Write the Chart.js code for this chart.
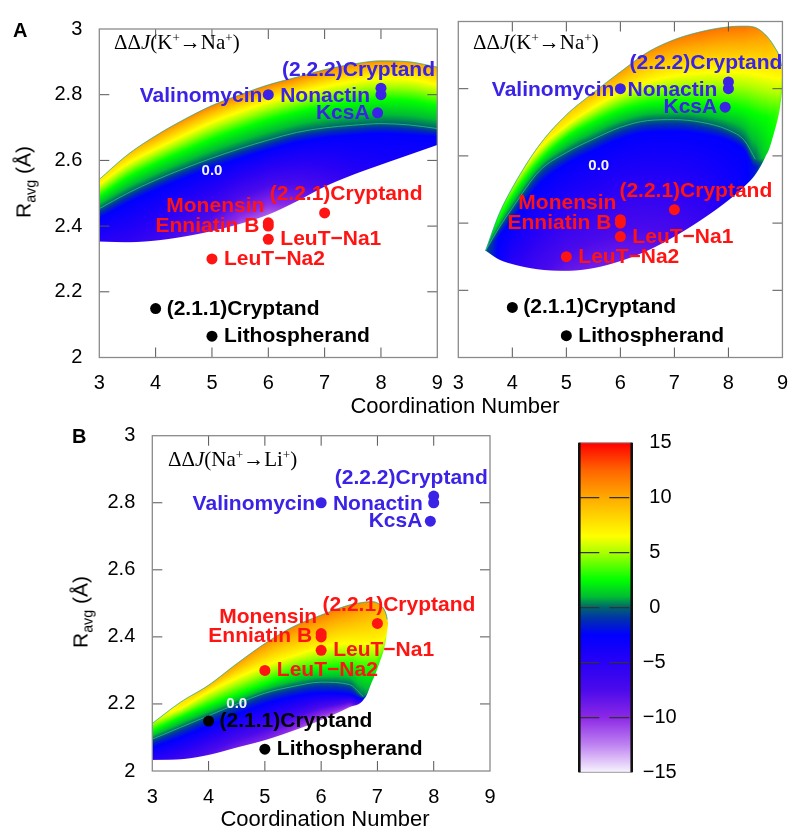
<!DOCTYPE html>
<html><head><meta charset="utf-8">
<script src="https://cdn.jsdelivr.net/npm/chart.js@4.4.0/dist/chart.umd.min.js"></script>
<style>
html,body{margin:0;padding:0;background:#fff;}
#wrap{position:relative;width:802px;height:830px;overflow:hidden;font-family:"Liberation Sans",Arial,sans-serif;}
canvas{position:absolute;left:0;top:0;}
.t{position:absolute;white-space:nowrap;color:#000;}
.ser{font-family:"Liberation Serif","Times New Roman",serif;font-size:21px;line-height:21px;}
.ser sup{font-size:0.62em;position:relative;top:-0.55em;vertical-align:baseline;line-height:0;}
.ytitle{font-size:21px;line-height:21px;transform:translate(-50%,-50%) rotate(-90deg);}
.ytitle sub{font-size:0.68em;position:relative;top:0.35em;vertical-align:baseline;line-height:0;}
.xtitle{font-size:22px;line-height:22px;transform:translateX(-50%);}
.panel{font-weight:bold;font-size:20px;line-height:20px;}
</style></head><body>
<div id="wrap">
<canvas id="cA1" width="802" height="830"></canvas>
<canvas id="cA2" width="802" height="830"></canvas>
<canvas id="cB" width="802" height="830"></canvas>
<canvas id="cBar" width="802" height="830"></canvas>
<div class="t panel" style="left:13px;top:20px;">A</div>
<div class="t panel" style="left:72px;top:426px;">B</div>
<div class="t ser" style="left:114px;top:32px;">ΔΔ<i>J</i>(K<sup>+</sup>→Na<sup>+</sup>)</div>
<div class="t ser" style="left:473px;top:32px;">ΔΔ<i>J</i>(K<sup>+</sup>→Na<sup>+</sup>)</div>
<div class="t ser" style="left:168px;top:449px;">ΔΔ<i>J</i>(Na<sup>+</sup>→Li<sup>+</sup>)</div>
<div class="t xtitle" style="left:455px;top:395px;">Coordination Number</div>
<div class="t xtitle" style="left:325px;top:808px;">Coordination Number</div>
<div class="t ytitle" style="left:23px;top:182px;">R<sub>avg</sub> (Å)</div>
<div class="t ytitle" style="left:80px;top:612px;">R<sub>avg</sub> (Å)</div>
</div>
<script>
// ---------------- data ----------------
const compounds = ['Valinomycin','Nonactin','(2.2.2)Cryptand','KcsA','Monensin','Enniatin B','LeuT\u2212Na1','LeuT\u2212Na2','(2.2.1)Cryptand','(2.1.1)Cryptand','Lithospherand'];
const coordNumber = [6, 8, 8, 7.94, 6, 6, 6, 5, 7, 4, 5];
const rAvg = [2.80, 2.80, 2.82, 2.745, 2.41, 2.40, 2.36, 2.30, 2.44, 2.149, 2.065];
const ionClass = ['K','K','K','K','Na','Na','Na','Na','Na','Li','Li'];
const xTicks = [3, 4, 5, 6, 7, 8, 9];
const yTicks = [2, 2.2, 2.4, 2.6, 2.8, 3];
const cbarTicks = [-15, -10, -5, 0, 5, 10, 15];

// colour scale (value -> rgb)
const cmapValues = [-15, -12.5, -10, -7.5, -5, -2.5, -1, 0, 1, 2.5, 5, 6.5, 10, 12.5, 15];
const cmapColors = [[248,244,255],[190,130,240],[140,40,230],[75,10,235],[40,0,245],[0,0,255],[0,50,170],[0,100,110],[0,190,50],[0,255,0],[170,255,0],[255,255,0],[255,170,0],[255,100,0],[255,0,0]];

// Panel A (left): curves of the ΔΔJ(K+→Na+) map, top edge -> bottom edge (y in Å, value from colour)
const mapA1X      = [3, 3.5, 4, 4.5, 5, 5.5, 6, 6.5, 7, 7.5, 8, 8.5, 9];
const mapA1UpperY = [2.542, 2.617, 2.675, 2.724, 2.767, 2.80, 2.83, 2.853, 2.876, 2.893, 2.903, 2.90, 2.884];
const mapA1UpperV = [7, 9, 10.5, 11, 11.5, 11.5, 11.5, 11.5, 11.5, 11, 11, 10.5, 10];
const mapA1YelY   = [2.532, 2.595, 2.64, 2.682, 2.722, 2.755, 2.785, 2.808, 2.83, 2.847, 2.857, 2.855, 2.838];
const mapA1YelV   = [7, 7, 7, 7, 7, 7, 7, 7, 7, 7, 7, 7, 7];
const mapA1GrnY   = [2.49, 2.547, 2.59, 2.628, 2.664, 2.695, 2.723, 2.746, 2.764, 2.777, 2.784, 2.781, 2.767];
const mapA1GrnV   = [2.5, 2.5, 2.5, 2.5, 2.5, 2.5, 2.5, 2.5, 2.5, 2.5, 2.5, 2.5, 2.5];
const mapA1ZeroY  = [2.453, 2.50, 2.54, 2.575, 2.607, 2.636, 2.662, 2.685, 2.699, 2.707, 2.712, 2.708, 2.697];
const mapA1ZeroV  = [0, 0, 0, 0, 0, 0, 0, 0, 0, 0, 0, 0, 0];
const mapA1BluY   = [2.423, 2.47, 2.51, 2.545, 2.577, 2.606, 2.632, 2.655, 2.669, 2.677, 2.682, 2.678, 2.672];
const mapA1BluV   = [-2.5, -2.5, -2.5, -2.5, -2.5, -2.5, -2.5, -2.5, -2.5, -2.5, -2.5, -2.5, -2.5];
const mapA1LowerY = [2.353, 2.351, 2.356, 2.368, 2.385, 2.407, 2.435, 2.475, 2.52, 2.556, 2.587, 2.617, 2.647];
const mapA1LowerV = [-5, -5.5, -6.5, -8, -9, -11, -11.5, -9.5, -7, -5, -4, -3.5, -3];

// Panel A (right)
const mapA2X      = [3.505, 3.75, 4, 4.5, 5, 5.5, 6, 6.5, 7, 7.5, 8, 8.3, 8.5, 8.7, 8.85, 8.95, 9];
const mapA2UpperY = [2.318, 2.425, 2.505, 2.632, 2.722, 2.788, 2.85, 2.908, 2.946, 2.97, 2.984, 2.986, 2.982, 2.958, 2.925, 2.892, 2.855];
const mapA2UpperV = [0, 3, 5, 7, 8.5, 9.5, 10.5, 11, 11.5, 12, 12, 12, 11.5, 10.5, 9, 8, 7.5];
const mapA2YelY   = [2.318, 2.425, 2.505, 2.625, 2.695, 2.75, 2.795, 2.828, 2.848, 2.858, 2.862, 2.862, 2.858, 2.852, 2.848, 2.845, 2.845];
const mapA2YelV   = [0, 3, 5, 7, 7, 7, 7, 7, 7, 7, 7, 7, 7, 7, 7, 7, 7];
const mapA2GrnY   = [2.318, 2.41, 2.48, 2.585, 2.655, 2.70, 2.735, 2.755, 2.76, 2.757, 2.748, 2.738, 2.725, 2.715, 2.725, 2.76, 2.815];
const mapA2GrnV   = [0, 2.5, 2.5, 2.5, 2.5, 2.5, 2.5, 2.5, 2.5, 2.5, 2.5, 2.5, 2.5, 2.5, 3, 4, 5];
const mapA2ZeroY  = [2.318, 2.385, 2.445, 2.555, 2.61, 2.65, 2.685, 2.705, 2.708, 2.70, 2.677, 2.645, 2.59, 2.603, 2.672, 2.74, 2.80];
const mapA2ZeroV  = [0, 0, 0, 0, 0, 0, 0, 0, 0, 0, 0, 0, 0, 1.5, 2.5, 3.5, 4.5];
const mapA2BluY   = [2.318, 2.36, 2.41, 2.515, 2.575, 2.615, 2.65, 2.67, 2.672, 2.665, 2.645, 2.615, 2.565, 2.603, 2.672, 2.74, 2.80];
const mapA2BluV   = [0, -2.5, -2.5, -2.5, -2.5, -2.5, -2.5, -2.5, -2.5, -2.5, -2.5, -2.5, -2, 1.5, 2.5, 3.5, 4.5];
const mapA2LowerY = [2.318, 2.292, 2.278, 2.262, 2.258, 2.266, 2.287, 2.318, 2.36, 2.41, 2.468, 2.51, 2.545, 2.603, 2.672, 2.74, 2.80];
const mapA2LowerV = [0, -3, -5, -7, -8.5, -9, -9, -8.5, -7.5, -6, -4, -3, -1.5, 1.5, 2.5, 3.5, 4.5];

// Panel B: ΔΔJ(Na+→Li+)
const mapBX      = [3, 3.5, 4, 4.5, 5, 5.5, 6, 6.5, 6.75, 6.9, 7.05, 7.15, 7.19];
const mapBUpperY = [2.142, 2.205, 2.256, 2.32, 2.38, 2.43, 2.465, 2.495, 2.503, 2.505, 2.495, 2.47, 2.44];
const mapBUpperV = [5, 7.5, 9.5, 10.5, 11, 11.5, 11.5, 11.5, 11, 10.5, 10, 9, 8];
const mapBYelY   = [2.142, 2.19, 2.24, 2.283, 2.32, 2.35, 2.375, 2.39, 2.39, 2.39, 2.395, 2.41, 2.44];
const mapBYelV   = [5, 7, 7, 7, 7, 7, 7, 7, 7, 7, 7, 7, 8];
const mapBGrnY   = [2.12, 2.16, 2.195, 2.228, 2.26, 2.29, 2.305, 2.31, 2.30, 2.30, 2.33, 2.39, 2.44];
const mapBGrnV   = [2.5, 2.5, 2.5, 2.5, 2.5, 2.5, 2.5, 2.5, 2.5, 2.5, 3, 4.5, 8];
const mapBZeroY  = [2.095, 2.13, 2.165, 2.20, 2.232, 2.252, 2.265, 2.258, 2.222, 2.265, 2.33, 2.39, 2.44];
const mapBZeroV  = [0, 0, 0, 0, 0, 0, 0, 0, 0, 1.5, 3, 4.5, 8];
const mapBBluY   = [2.07, 2.10, 2.135, 2.17, 2.20, 2.222, 2.232, 2.228, 2.215, 2.265, 2.33, 2.39, 2.44];
const mapBBluV   = [-2.5, -2.5, -2.5, -2.5, -2.5, -2.5, -2.5, -2.5, -2.5, 1.5, 3, 4.5, 8];
const mapBLowerY = [2.033, 2.035, 2.048, 2.07, 2.092, 2.12, 2.152, 2.19, 2.212, 2.265, 2.33, 2.39, 2.44];
const mapBLowerV = [-5, -6.5, -8, -9, -9.5, -10.5, -12, -11, -5, 1.5, 3, 4.5, 8];

// anchor of the "0.0" contour labels (data coords)
const zeroLabelA1 = [5.0, 2.569];
const zeroLabelA2 = [5.6, 2.57];
const zeroLabelB  = [4.5, 2.199];

// ---------------- styles ----------------
const ionColors = {K: '#3a22e6', Na: '#ff1414', Li: '#000000'};
// [dx, dy (baseline), align] label offsets in px from each point
const labelPlacement = [[-6,7,'right'],[-11,7,'right'],[54,-12.5,'right'],[-8,6,'right'],[-4,-10.5,'right'],[-9,5.5,'right'],[12,6,'left'],[12,6,'left'],[-55,-12.5,'left'],[11,6,'left'],[12,6,'left']];
const FONT = "'Liberation Sans', Arial, sans-serif";
Chart.defaults.font.family = FONT;

// ---------------- helpers ----------------
function monotone(xs, ys) {
  const n = xs.length, d = [], m = new Array(n);
  for (let i = 0; i < n - 1; i++) d.push((ys[i+1]-ys[i])/(xs[i+1]-xs[i]));
  m[0] = d[0]; m[n-1] = d[n-2];
  for (let i = 1; i < n - 1; i++) m[i] = (d[i-1]*d[i] <= 0) ? 0 : (d[i-1]+d[i])/2;
  for (let i = 0; i < n - 1; i++) {
    if (d[i] === 0) { m[i] = 0; m[i+1] = 0; continue; }
    const a = m[i]/d[i], b = m[i+1]/d[i], s = a*a + b*b;
    if (s > 9) { const t = 3/Math.sqrt(s); m[i] = t*a*d[i]; m[i+1] = t*b*d[i]; }
  }
  return function (x) {
    let i = 0; while (i < n - 2 && x > xs[i+1]) i++;
    const h = xs[i+1]-xs[i], t = (x-xs[i])/h, t2 = t*t, t3 = t2*t;
    return (2*t3-3*t2+1)*ys[i] + (t3-2*t2+t)*h*m[i] + (-2*t3+3*t2)*ys[i+1] + (t3-t2)*h*m[i+1];
  };
}
function lin(xs, vs, x) {
  let i = 0; while (i < xs.length - 2 && x > xs[i+1]) i++;
  const t = (x - xs[i])/(xs[i+1]-xs[i]);
  return vs[i] + (vs[i+1]-vs[i])*t;
}
function cmap(v) {
  if (v <= cmapValues[0]) return cmapColors[0];
  const n = cmapValues.length;
  if (v >= cmapValues[n-1]) return cmapColors[n-1];
  let i = 0; while (v > cmapValues[i+1]) i++;
  const t = (v - cmapValues[i])/(cmapValues[i+1]-cmapValues[i]);
  const a = cmapColors[i], b = cmapColors[i+1];
  return [a[0]+(b[0]-a[0])*t, a[1]+(b[1]-a[1])*t, a[2]+(b[2]-a[2])*t];
}
function buildMap(xs, pairs) {
  return {xs, curves: pairs.map(p => ({fy: monotone(xs, p[0]), v: p[1]}))};
}
const mapA1 = buildMap(mapA1X, [[mapA1UpperY,mapA1UpperV],[mapA1YelY,mapA1YelV],[mapA1GrnY,mapA1GrnV],[mapA1ZeroY,mapA1ZeroV],[mapA1BluY,mapA1BluV],[mapA1LowerY,mapA1LowerV]]);
const mapA2 = buildMap(mapA2X, [[mapA2UpperY,mapA2UpperV],[mapA2YelY,mapA2YelV],[mapA2GrnY,mapA2GrnV],[mapA2ZeroY,mapA2ZeroV],[mapA2BluY,mapA2BluV],[mapA2LowerY,mapA2LowerV]]);
const mapB  = buildMap(mapBX,  [[mapBUpperY,mapBUpperV],[mapBYelY,mapBYelV],[mapBGrnY,mapBGrnV],[mapBZeroY,mapBZeroV],[mapBBluY,mapBBluV],[mapBLowerY,mapBLowerV]]);

function zeroLine(xs, ys, vs) {
  const pts = [];
  for (let i = 0; i < xs.length; i++) if (vs[i] === 0) pts.push({x: xs[i], y: ys[i]});
  return pts;
}

// ---------------- plugins ----------------
const heatPlugin = {
  id: 'heat',
  beforeDatasetsDraw(chart, args, opts) {
    const map = opts.map; if (!map) return;
    const ctx = chart.ctx, ca = chart.chartArea, xs = chart.scales.x, ys = chart.scales.y;
    const ox = Math.floor(ca.left), oy = Math.floor(ca.top);
    const W = Math.ceil(ca.right) - ox, H = Math.ceil(ca.bottom) - oy;
    const off = document.createElement('canvas'); off.width = W; off.height = H;
    const octx = off.getContext('2d'); const img = octx.createImageData(W, H);
    const R = new Float32Array(W*H), G = new Float32Array(W*H), B = new Float32Array(W*H), A = new Float32Array(W*H);
    const SS = 4, x0 = map.xs[0], x1 = map.xs[map.xs.length-1], nC = map.curves.length;
    const py = new Array(nC), pv = new Array(nC);
    for (let i = 0; i < W; i++) {
      for (let s = 0; s < SS; s++) {
        const px = ox + i + (s + 0.5)/SS;
        if (px < ca.left || px > ca.right) continue;
        const xv = xs.getValueForPixel(px);
        if (xv < x0 || xv > x1) continue;
        for (let k = 0; k < nC; k++) { py[k] = ys.getPixelForValue(map.curves[k].fy(xv)); pv[k] = lin(map.xs, map.curves[k].v, xv); }
        for (let k = 1; k < nC; k++) if (py[k] < py[k-1]) py[k] = py[k-1];
        const top = Math.max(py[0], ca.top), bot = Math.min(py[nC-1], ca.bottom);
        if (bot <= top) continue;
        const j0 = Math.floor(top - oy), j1 = Math.ceil(bot - oy);
        let k = 0;
        for (let j = j0; j < j1; j++) {
          if (j < 0 || j >= H) continue;
          const rt = oy + j, rb = rt + 1;
          const cov = Math.min(rb, bot) - Math.max(rt, top);
          if (cov <= 0) continue;
          const yc = Math.min(Math.max(rt + 0.5, top), bot);
          while (k < nC - 2 && yc > py[k+1]) k++;
          const span = py[k+1] - py[k];
          const v = span > 1e-6 ? pv[k] + (pv[k+1]-pv[k])*(yc-py[k])/span : pv[k+1];
          const c = cmap(v), w = cov/SS, idx = j*W + i;
          R[idx] += c[0]*w; G[idx] += c[1]*w; B[idx] += c[2]*w; A[idx] += w;
        }
      }
    }
    const d = img.data;
    for (let idx = 0; idx < W*H; idx++) {
      const a = A[idx]; if (a <= 0) continue;
      d[idx*4] = R[idx]/a; d[idx*4+1] = G[idx]/a; d[idx*4+2] = B[idx]/a; d[idx*4+3] = Math.min(1, a)*255;
    }
    octx.putImageData(img, 0, 0);
    ctx.drawImage(off, ox, oy);
    // thin outline of the upper edge
    ctx.save();
    ctx.beginPath(); ctx.rect(ca.left, ca.top, ca.right - ca.left, ca.bottom - ca.top); ctx.clip();
    ctx.beginPath();
    const pxa = Math.max(ca.left, xs.getPixelForValue(x0)), pxb = Math.min(ca.right, xs.getPixelForValue(x1));
    for (let px = pxa; px <= pxb; px += 1) {
      const yv = map.curves[0].fy(Math.min(x1, xs.getValueForPixel(px)));
      const yy = ys.getPixelForValue(yv);
      if (px === pxa) ctx.moveTo(px, yy); else ctx.lineTo(px, yy);
    }
    ctx.strokeStyle = 'rgba(30,165,130,0.8)'; ctx.lineWidth = 1; ctx.stroke();
    ctx.restore();
  }
};

const labelPlugin = {
  id: 'ptlabels',
  afterDatasetsDraw(chart, args, opts) {
    const ctx = chart.ctx, xs = chart.scales.x, ys = chart.scales.y;
    ctx.save();
    ctx.font = "bold 21px " + FONT; ctx.textBaseline = 'alphabetic';
    compounds.forEach((name, i) => {
      const px = xs.getPixelForValue(coordNumber[i]), py = ys.getPixelForValue(rAvg[i]);
      const p = labelPlacement[i];
      ctx.fillStyle = ionColors[ionClass[i]]; ctx.textAlign = p[2];
      ctx.fillText(name, px + p[0], py + p[1]);
    });
    if (opts.zero) {
      ctx.font = "bold 15px " + FONT; ctx.fillStyle = '#f4f4ff'; ctx.textAlign = 'center'; ctx.textBaseline = 'middle';
      ctx.fillText('0.0', xs.getPixelForValue(opts.zero[0]), ys.getPixelForValue(opts.zero[1]));
    }
    ctx.restore();
  }
};

const framePlugin = {
  id: 'frame',
  afterDraw(chart) {
    const ctx = chart.ctx, ca = chart.chartArea, xs = chart.scales.x, ys = chart.scales.y;
    ctx.save();
    ctx.strokeStyle = '#555'; ctx.lineWidth = 1;
    ctx.beginPath();
    xTicks.forEach(v => { if (v === xTicks[0] || v === xTicks[xTicks.length-1]) return;
      const p = xs.getPixelForValue(v);
      ctx.moveTo(p, ca.bottom); ctx.lineTo(p, ca.bottom - 10); ctx.moveTo(p, ca.top); ctx.lineTo(p, ca.top + 10); });
    yTicks.forEach(v => { if (v === yTicks[0] || v === yTicks[yTicks.length-1]) return;
      const p = ys.getPixelForValue(v);
      ctx.moveTo(ca.left, p); ctx.lineTo(ca.left + 10, p); ctx.moveTo(ca.right, p); ctx.lineTo(ca.right - 10, p); });
    ctx.stroke();
    ctx.strokeStyle = '#8a8a8a'; ctx.lineWidth = 1.3;
    ctx.strokeRect(ca.left, ca.top, ca.right - ca.left, ca.bottom - ca.top);
    ctx.restore();
  }
};

// ---------------- charts ----------------
function makePlot(id, padding, map, zeroPts, zeroPos, showYLabels) {
  return new Chart(document.getElementById(id), {
    type: 'scatter',
    data: {
      datasets: [
        {
          data: coordNumber.map((x, i) => ({x, y: rAvg[i]})),
          pointBackgroundColor: ionClass.map(c => ionColors[c]),
          pointBorderWidth: 0, pointRadius: 5.5, showLine: false
        },
        {
          type: 'line', data: zeroPts, borderColor: 'rgba(40,180,130,0.9)', borderWidth: 1,
          pointRadius: 0, cubicInterpolationMode: 'monotone', fill: false
        }
      ]
    },
    options: {
      responsive: false, animation: false, devicePixelRatio: 1,
      layout: {padding},
      plugins: {legend: {display: false}, tooltip: {enabled: false}, heat: {map}, ptlabels: {zero: zeroPos}},
      scales: {
        x: {
          type: 'linear', min: 3, max: 9, position: 'bottom',
          afterBuildTicks: s => { s.ticks = xTicks.map(v => ({value: v})); },
          afterFit: s => { s.height = 50; },
          ticks: {font: {size: 20}, color: '#000', padding: 14, callback: v => String(v)},
          grid: {display: false, drawTicks: false}, border: {display: false}
        },
        y: {
          type: 'linear', min: 2, max: 3, position: 'left',
          afterBuildTicks: s => { s.ticks = yTicks.map(v => ({value: v})); },
          afterFit: s => { s.width = 60; },
          ticks: {display: showYLabels, font: {size: 20}, color: '#000', padding: 17, callback: v => String(Math.round(v*10)/10)},
          grid: {display: false, drawTicks: false}, border: {display: false}
        }
      }
    },
    plugins: [heatPlugin, labelPlugin, framePlugin]
  });
}

makePlot('cA1', {left: 39.3, right: 364.7, top: 21.5, bottom: 422.5}, mapA1, zeroLine(mapA1X, mapA1ZeroY, mapA1ZeroV), zeroLabelA1, true);
makePlot('cA2', {left: 398.3, right: 6.7, top: 21.5, bottom: 422.5}, mapA2, zeroLine(mapA2X, mapA2ZeroY, mapA2ZeroV), zeroLabelA2, false);
makePlot('cB',  {left: 92.3, right: 312, top: 435.7, bottom: 9}, mapB, zeroLine(mapBX, mapBZeroY, mapBZeroV), zeroLabelB, true);

// colour bar
const cbarPlugin = {
  id: 'cbar',
  beforeDraw(chart) {
    const ctx = chart.ctx, ca = chart.chartArea;
    const g = ctx.createLinearGradient(0, ca.top, 0, ca.bottom);
    cmapValues.forEach((v, i) => { const c = cmapColors[i]; g.addColorStop((15 - v)/30, `rgb(${c[0]},${c[1]},${c[2]})`); });
    ctx.save(); ctx.fillStyle = g; ctx.fillRect(ca.left, ca.top, ca.right - ca.left, ca.bottom - ca.top); ctx.restore();
  },
  afterDraw(chart) {
    const ctx = chart.ctx, ca = chart.chartArea;
    ctx.save();
    ctx.strokeStyle = '#9a9a9a'; ctx.lineWidth = 1;
    ctx.strokeRect(ca.left, ca.top, ca.right - ca.left, ca.bottom - ca.top);
    ctx.strokeStyle = '#111'; ctx.lineWidth = 2.6;
    ctx.beginPath(); ctx.moveTo(ca.left, ca.top); ctx.lineTo(ca.left, ca.bottom); ctx.moveTo(ca.right, ca.top); ctx.lineTo(ca.right, ca.bottom); ctx.stroke();
    ctx.restore();
  }
};
new Chart(document.getElementById('cBar'), {
  type: 'scatter',
  data: {datasets: []},
  options: {
    responsive: false, animation: false, devicePixelRatio: 1,
    layout: {padding: {left: 579.3, right: 110.3, top: 442.7, bottom: 57.7}},
    plugins: {legend: {display: false}, tooltip: {enabled: false}},
    scales: {
      x: {display: false, min: 0, max: 1},
      y: {
        type: 'linear', position: 'right', min: -15, max: 15,
        afterBuildTicks: s => { s.ticks = cbarTicks.map(v => ({value: v})); },
        afterFit: s => { s.width = 60; },
        ticks: {font: {size: 20}, color: '#000', padding: 11,
          callback: v => v < 0 ? '\u2212' + Math.abs(v) : '\u2005\u200A' + v},
        grid: {display: true, drawTicks: false, lineWidth: 1.2,
          color: c => (c.tick && Math.abs(c.tick.value) === 15) ? 'rgba(0,0,0,0)' : '#333'},
        border: {display: false, dash: [20, 10]}
      }
    }
  },
  plugins: [cbarPlugin]
});
</script>
</body></html>
